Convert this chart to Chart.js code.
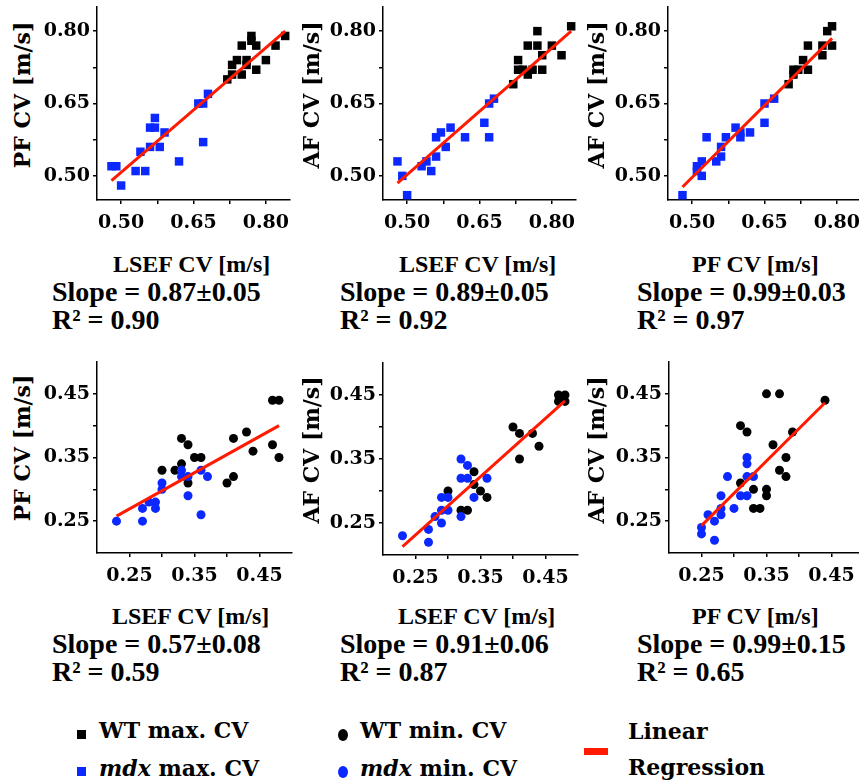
<!DOCTYPE html>
<html lang="en">
<head>
<meta charset="UTF-8">
<title>CV method comparison</title>
<style>
  html, body { margin: 0; padding: 0; width: 859px; height: 784px; overflow: hidden; background: #fff; }
  canvas.plot { position: absolute; }
  .txt { position: absolute; white-space: nowrap; color: #000; font-family: 'Liberation Serif', serif; font-weight: bold; line-height: 1; }
  .xt { font-size: 24px; }
  .st { font-size: 28px; }
  .yt { position: absolute; white-space: nowrap; color: #000; font-family: 'DejaVu Serif', serif; font-weight: bold; font-size: 22px; line-height: 1; transform: translate(-50%, -50%) rotate(-90deg); }
  .lg { position: absolute; white-space: nowrap; color: #000; font-family: 'DejaVu Serif', serif; font-weight: bold; font-size: 22px; line-height: 1; }
  .mk { position: absolute; }
</style>
<script src="https://cdn.jsdelivr.net/npm/chart.js"></script>
</head>
<body>
<canvas id="p1" class="plot" width="280" height="254" style="left:35px;top:-18px"></canvas>
<canvas id="p2" class="plot" width="280" height="254" style="left:321px;top:-18px"></canvas>
<canvas id="p3" class="plot" width="280" height="254" style="left:606px;top:-18px"></canvas>
<canvas id="p4" class="plot" width="282" height="252" style="left:35px;top:337px"></canvas>
<canvas id="p5" class="plot" width="282" height="253" style="left:321px;top:338px"></canvas>
<canvas id="p6" class="plot" width="282" height="252" style="left:607px;top:337px"></canvas>

<!-- y axis titles -->
<div class="yt" style="left:22px;top:95px">PF CV [m/s]</div>
<div class="yt" style="left:311px;top:95px">AF CV [m/s]</div>
<div class="yt" style="left:596px;top:95px">AF CV [m/s]</div>
<div class="yt" style="left:22px;top:448px">PF CV [m/s]</div>
<div class="yt" style="left:311px;top:450px">AF CV [m/s]</div>
<div class="yt" style="left:596px;top:450px">AF CV [m/s]</div>

<!-- x titles and fit stats, top row -->
<div class="txt xt" style="left:113px;top:252px">LSEF CV [m/s]</div>
<div class="txt st" style="left:52px;top:278px">Slope = 0.87±0.05</div>
<div class="txt st" style="left:52px;top:306px">R² = 0.90</div>
<div class="txt xt" style="left:399px;top:252px">LSEF CV [m/s]</div>
<div class="txt st" style="left:340px;top:278px">Slope = 0.89±0.05</div>
<div class="txt st" style="left:340px;top:306px">R² = 0.92</div>
<div class="txt xt" style="left:692px;top:252px">PF CV [m/s]</div>
<div class="txt st" style="left:637px;top:278px">Slope = 0.99±0.03</div>
<div class="txt st" style="left:637px;top:306px">R² = 0.97</div>

<!-- bottom row -->
<div class="txt xt" style="left:112px;top:604px">LSEF CV [m/s]</div>
<div class="txt st" style="left:52px;top:630px">Slope = 0.57±0.08</div>
<div class="txt st" style="left:52px;top:658px">R² = 0.59</div>
<div class="txt xt" style="left:398px;top:604px">LSEF CV [m/s]</div>
<div class="txt st" style="left:340px;top:630px">Slope = 0.91±0.06</div>
<div class="txt st" style="left:340px;top:658px">R² = 0.87</div>
<div class="txt xt" style="left:692px;top:604px">PF CV [m/s]</div>
<div class="txt st" style="left:637px;top:630px">Slope = 0.99±0.15</div>
<div class="txt st" style="left:637px;top:658px">R² = 0.65</div>

<!-- legend -->
<div class="mk" style="left:77px;top:730px;width:9px;height:9px;background:#000"></div>
<div class="mk" style="left:77px;top:767px;width:9px;height:9px;background:#0a28ff"></div>
<div class="lg" style="left:99px;top:719px">WT max. CV</div>
<div class="lg" style="left:99px;top:757px"><i>mdx</i> max. CV</div>
<div class="mk" style="left:338px;top:729px;width:10px;height:12px;border-radius:50%;background:#000"></div>
<div class="mk" style="left:338px;top:766px;width:10px;height:12px;border-radius:50%;background:#0a28ff"></div>
<div class="lg" style="left:360px;top:719px">WT min. CV</div>
<div class="lg" style="left:360px;top:757px"><i>mdx</i> min. CV</div>
<div class="mk" style="left:584px;top:748px;width:24px;height:7px;background:#ff1a00"></div>
<div class="lg" style="left:628px;top:720px">Linear</div>
<div class="lg" style="left:628px;top:756px">Regression</div>

<script>
    const BLACK = '#000000';
    const BLUE = '#0a28ff';
    const RED = '#ff1a00';

    // tick values
    const topTicks = [0.50, 0.65, 0.80];
    const topMinor = [0.575, 0.725];
    const botTicks = [0.25, 0.35, 0.45];
    const botMinor = [0.30, 0.40];

    // top row: max CV (squares), [x, y]
    const lsefPfWT = [[0.72,0.70],[0.73,0.71],[0.73,0.73],[0.74,0.74],[0.75,0.71],[0.75,0.77],[0.76,0.74],[0.76,0.73],
        [0.77,0.79],[0.77,0.78],[0.78,0.77],[0.78,0.72],[0.80,0.74],[0.82,0.77],[0.84,0.79]];
    const lsefPfMdx = [[0.48,0.52],[0.49,0.52],[0.50,0.48],[0.53,0.51],[0.55,0.51],[0.54,0.55],[0.56,0.56],[0.58,0.56],
        [0.56,0.60],[0.57,0.60],[0.57,0.62],[0.59,0.59],[0.62,0.53],[0.66,0.65],[0.67,0.65],[0.68,0.67],[0.67,0.57]];
    const lsefPfFit = [[0.48,0.49],[0.84,0.80]];

    const lsefAfWT = [[0.72,0.69],[0.73,0.72],[0.73,0.74],[0.74,0.72],[0.75,0.71],[0.75,0.77],[0.76,0.72],[0.77,0.80],
        [0.77,0.77],[0.78,0.75],[0.78,0.72],[0.80,0.77],[0.82,0.75],[0.84,0.81]];
    const lsefAfMdx = [[0.48,0.53],[0.49,0.50],[0.50,0.46],[0.53,0.52],[0.54,0.53],[0.55,0.51],[0.56,0.54],[0.56,0.58],
        [0.57,0.59],[0.58,0.56],[0.59,0.60],[0.62,0.58],[0.66,0.61],[0.67,0.58],[0.67,0.65],[0.68,0.66]];
    const lsefAfFit = [[0.48,0.485],[0.84,0.80]];

    const pfAfWT = [[0.70,0.69],[0.71,0.72],[0.71,0.71],[0.72,0.72],[0.73,0.74],[0.74,0.72],[0.74,0.77],[0.77,0.75],
        [0.77,0.77],[0.78,0.80],[0.79,0.81],[0.79,0.77]];
    const pfAfMdx = [[0.48,0.46],[0.51,0.52],[0.52,0.53],[0.52,0.50],[0.51,0.51],[0.53,0.58],[0.55,0.53],[0.56,0.54],
        [0.56,0.56],[0.57,0.58],[0.59,0.60],[0.60,0.59],[0.60,0.58],[0.62,0.59],[0.65,0.61],[0.65,0.65],[0.67,0.66]];
    const pfAfFit = [[0.48,0.477],[0.79,0.785]];

    // bottom row: min CV (circles), [x, y]
    const lsefPfMinWT = [[0.30,0.33],[0.32,0.33],[0.33,0.34],[0.33,0.38],[0.34,0.37],[0.34,0.31],[0.35,0.35],[0.36,0.35],
        [0.40,0.31],[0.41,0.32],[0.41,0.38],[0.43,0.39],[0.44,0.36],[0.47,0.37],[0.47,0.44],[0.48,0.44],[0.48,0.35]];
    const lsefPfMinMdx = [[0.23,0.25],[0.27,0.25],[0.27,0.27],[0.28,0.28],[0.29,0.28],[0.29,0.27],[0.30,0.31],[0.30,0.30],
        [0.33,0.33],[0.33,0.32],[0.34,0.32],[0.34,0.29],[0.36,0.33],[0.36,0.26],[0.37,0.32]];
    const lsefPfMinFit = [[0.23,0.258],[0.48,0.40]];

    const lsefAfMinWT = [[0.30,0.30],[0.32,0.27],[0.33,0.27],[0.34,0.33],[0.34,0.31],[0.35,0.30],[0.36,0.29],[0.40,0.40],
        [0.41,0.39],[0.41,0.35],[0.43,0.39],[0.44,0.37],[0.47,0.45],[0.47,0.44],[0.48,0.45],[0.48,0.44]];
    const lsefAfMinMdx = [[0.23,0.23],[0.27,0.24],[0.27,0.22],[0.28,0.26],[0.29,0.25],[0.29,0.27],[0.29,0.29],[0.30,0.29],
        [0.30,0.27],[0.32,0.35],[0.32,0.32],[0.32,0.26],[0.33,0.34],[0.33,0.32],[0.34,0.29],[0.36,0.32]];
    const lsefAfMinFit = [[0.23,0.213],[0.48,0.441]];

    const pfAfMinWT = [[0.31,0.40],[0.31,0.31],[0.32,0.39],[0.33,0.30],[0.33,0.27],[0.34,0.27],[0.35,0.45],[0.35,0.30],
        [0.35,0.29],[0.36,0.37],[0.37,0.45],[0.37,0.33],[0.38,0.35],[0.38,0.32],[0.39,0.39],[0.44,0.44]];
    const pfAfMinMdx = [[0.25,0.24],[0.25,0.23],[0.26,0.26],[0.27,0.25],[0.27,0.22],[0.28,0.29],[0.28,0.27],[0.28,0.26],
        [0.29,0.32],[0.30,0.27],[0.31,0.29],[0.32,0.35],[0.32,0.34],[0.32,0.32],[0.32,0.29],[0.33,0.32]];
    const pfAfMinFit = [[0.25,0.243],[0.44,0.436]];

    const toXY = arr => arr.map(p => ({x: p[0], y: p[1]}));
    const tickFont = {family: 'DejaVu Serif', weight: 'bold', size: 19};

    function axis(lo, hi, major, minor, isY) {
        const all = major.concat(minor).sort((a, b) => a - b);
        return {
            type: 'linear',
            min: lo,
            max: hi,
            afterBuildTicks: s => { s.ticks = all.map(v => ({value: v})); },
            afterFit: s => { if (isY) s.width = 62; else s.height = 36; },
            ticks: {
                autoSkip: false,
                maxRotation: 0,
                color: BLACK,
                font: tickFont,
                padding: isY ? 3 : 8,
                callback: v => major.some(m => Math.abs(m - v) < 1e-6) ? v.toFixed(2) : ''
            },
            grid: {drawOnChartArea: false, drawTicks: true, tickLength: 4, color: BLACK, lineWidth: 1.5},
            border: {display: true, color: BLACK, width: 1.5}
        };
    }

    function makePlot(id, wt, mdx, fit, lo, hi, major, minor, style, radius) {
        const ctx = document.getElementById(id).getContext('2d');
        return new Chart(ctx, {
            type: 'scatter',
            data: {
                datasets: [
                    {data: toXY(fit), showLine: true, borderColor: RED, borderWidth: 3, pointRadius: 0, order: 0},
                    {data: toXY(mdx), backgroundColor: BLUE, borderColor: BLUE, borderWidth: 0, pointStyle: style, pointRadius: radius, order: 1},
                    {data: toXY(wt), backgroundColor: BLACK, borderColor: BLACK, borderWidth: 0, pointStyle: style, pointRadius: radius, order: 2}
                ]
            },
            options: {
                responsive: false,
                animation: false,
                devicePixelRatio: 1,
                layout: {padding: {top: 25, right: 25, left: 0, bottom: 0}},
                plugins: {legend: {display: false}, tooltip: {enabled: false}},
                scales: {
                    x: axis(lo, hi, major, minor, false),
                    y: axis(lo, hi, major, minor, true)
                }
            }
        });
    }

    makePlot('p1', lsefPfWT, lsefPfMdx, lsefPfFit, 0.45, 0.85, topTicks, topMinor, 'rect', 6);
    makePlot('p2', lsefAfWT, lsefAfMdx, lsefAfFit, 0.45, 0.85, topTicks, topMinor, 'rect', 6);
    makePlot('p3', pfAfWT, pfAfMdx, pfAfFit, 0.45, 0.85, topTicks, topMinor, 'rect', 6);
    makePlot('p4', lsefPfMinWT, lsefPfMinMdx, lsefPfMinFit, 0.20, 0.50, botTicks, botMinor, 'circle', 4.5);
    makePlot('p5', lsefAfMinWT, lsefAfMinMdx, lsefAfMinFit, 0.20, 0.50, botTicks, botMinor, 'circle', 4.5);
    makePlot('p6', pfAfMinWT, pfAfMinMdx, pfAfMinFit, 0.20, 0.50, botTicks, botMinor, 'circle', 4.5);
</script>
</body>
</html>
